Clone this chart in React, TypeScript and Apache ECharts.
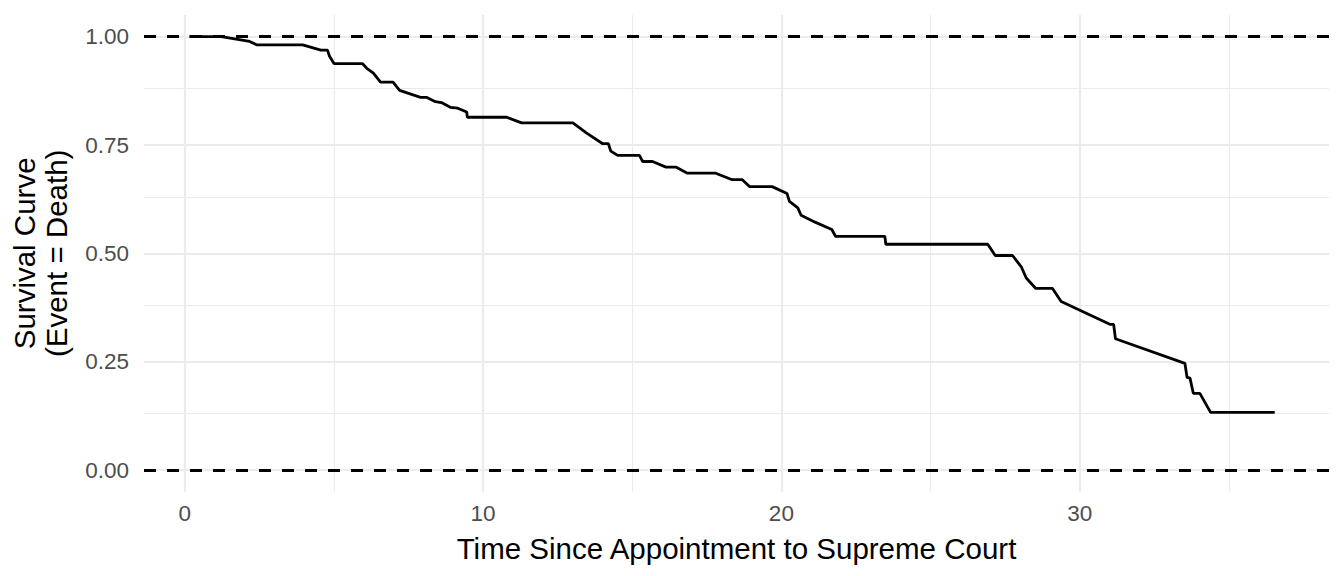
import React, { useEffect, useRef } from "react";
import * as echarts from "echarts";

const times = [
  0.15, 1.22, 2.17, 2.42, 3.95, 4.56, 4.78, 4.85, 5.0, 5.95, 6.1, 6.32, 6.56, 6.98, 7.2, 7.9, 8.1, 8.4, 8.6, 8.9,
  9.15, 9.45, 9.47, 10.79, 11.29, 13.01, 13.46, 14.01, 14.2, 14.28, 14.51, 15.24, 15.35, 15.68, 16.13, 16.46,
  16.85, 17.8, 18.35, 18.69, 18.93, 19.69, 20.19, 20.27, 20.55, 20.66, 21.13, 21.69, 21.82, 23.47, 23.5, 26.92,
  27.17, 27.75, 28.05, 28.21, 28.53, 29.09, 29.38, 31.03, 31.14, 31.2, 33.53, 33.6, 33.7, 33.81, 34.03, 34.39,
  36.54,
];
const survival = [
  1.0, 1.0, 0.989, 0.981, 0.981, 0.969, 0.969, 0.955, 0.938, 0.938, 0.927, 0.916, 0.895, 0.895, 0.876, 0.86,
  0.86, 0.85, 0.848, 0.837, 0.835, 0.826, 0.814, 0.814, 0.801, 0.801, 0.778, 0.753, 0.753, 0.736, 0.726, 0.726,
  0.712, 0.712, 0.699, 0.699, 0.685, 0.685, 0.67, 0.67, 0.654, 0.654, 0.638, 0.62, 0.605, 0.588, 0.572, 0.555,
  0.539, 0.539, 0.521, 0.521, 0.495, 0.495, 0.468, 0.443, 0.419, 0.419, 0.389, 0.336, 0.336, 0.303, 0.246,
  0.214, 0.212, 0.177, 0.177, 0.133, 0.133,
];
const xTicks = [0, 10, 20, 30];
const xMinor = [5, 15, 25, 35];
const yTicks = [0, 0.25, 0.5, 0.75, 1.0];
const yMinor = [0.125, 0.375, 0.625, 0.875];
const refLines = [0, 1];

const FONT = "'Liberation Sans', Arial, Helvetica, sans-serif";

export default function App() {
  const ref = useRef<HTMLDivElement>(null);
  useEffect(() => {
    if (!ref.current) return;
    const chart = echarts.init(ref.current, null, { renderer: "svg" });
    const gridLine = (w: number, z: number) => ({
      silent: true,
      symbol: "none",
      z,
      label: { show: false },
      emphasis: { disabled: true },
      lineStyle: { color: "#EBEBEB", width: w, type: "solid" as const },
    });
    chart.setOption({
      animation: false,
      backgroundColor: "#ffffff",
      grid: { left: 140, right: 15, top: 15, bottom: 84.3, containLabel: false },
      xAxis: {
        type: "value",
        min: -1.37,
        max: 38.36,
        axisLine: { show: false },
        axisTick: { show: false },
        splitLine: { show: false },
        axisLabel: {
          customValues: xTicks,
          fontSize: 22.5,
          color: "#4D4D4D",
          fontFamily: FONT,
          margin: 10,
        },
        name: "Time Since Appointment to Supreme Court",
        nameLocation: "middle",
        nameGap: 42,
        nameTextStyle: { fontSize: 29.5, color: "#000000", fontFamily: FONT },
      },
      yAxis: {
        type: "value",
        min: -0.05,
        max: 1.05,
        axisLine: { show: false },
        axisTick: { show: false },
        splitLine: { show: false },
        axisLabel: {
          customValues: yTicks,
          formatter: (v: number) => v.toFixed(2),
          fontSize: 22.5,
          color: "#4D4D4D",
          fontFamily: FONT,
          margin: 15,
        },
        name: "Survival Curve\n(Event = Death)",
        nameLocation: "middle",
        nameRotate: 90,
        nameGap: 72,
        nameTextStyle: { fontSize: 29.5, color: "#000000", fontFamily: FONT, lineHeight: 32 },
      },
      series: [
        {
          type: "line",
          data: [],
          z: 1,
          markLine: {
            ...gridLine(1.1, 1),
            data: [...xMinor.map((v) => ({ xAxis: v })), ...yMinor.map((v) => ({ yAxis: v }))],
          },
        },
        {
          type: "line",
          data: [],
          z: 2,
          markLine: {
            ...gridLine(2.2, 2),
            data: [...xTicks.map((v) => ({ xAxis: v })), ...yTicks.map((v) => ({ yAxis: v }))],
          },
        },
        {
          type: "line",
          data: times.map((t, i) => [t, survival[i]]),
          showSymbol: false,
          symbol: "none",
          silent: true,
          z: 6,
          lineStyle: { color: "#000000", width: 2.8 },
        },
        {
          type: "line",
          data: [],
          z: 7,
          markLine: {
            silent: true,
            symbol: "none",
            z: 7,
            label: { show: false },
            lineStyle: { color: "#000000", width: 3, type: [12, 11] },
            data: refLines.map((v) => ({ yAxis: v })),
          },
        },
      ],
    });
    return () => chart.dispose();
  }, []);
  return (
    <div
      ref={ref}
      style={{ position: "absolute", left: 0, top: 0, width: 1344, height: 576 }}
    />
  );
}
